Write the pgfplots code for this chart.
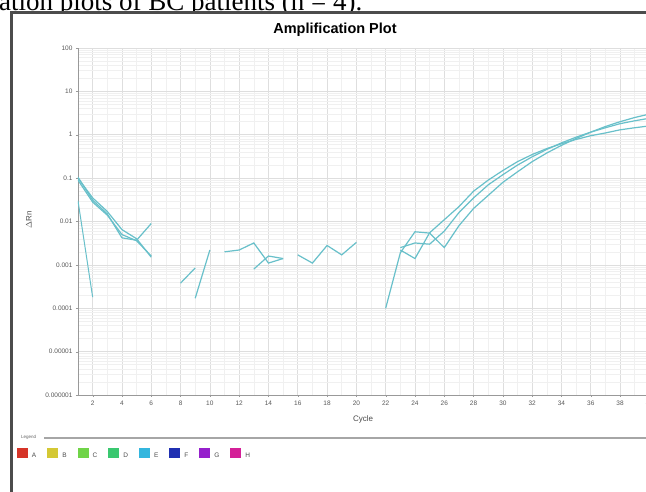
\documentclass[border=0pt]{standalone}
\usepackage{fontspec}
\setmainfont{Liberation Sans}
\newfontfamily\capfont{Liberation Serif}
\usepackage{pgfplots}
\pgfplotsset{compat=1.18}
\definecolor{amp}{RGB}{104,192,202}
\definecolor{legA}{RGB}{214,52,40}
\definecolor{legB}{RGB}{212,200,52}
\definecolor{legC}{RGB}{112,212,72}
\definecolor{legD}{RGB}{58,200,112}
\definecolor{legE}{RGB}{52,182,222}
\definecolor{legF}{RGB}{32,48,178}
\definecolor{legG}{RGB}{150,32,204}
\definecolor{legH}{RGB}{212,32,152}
\begin{document}
\begin{tikzpicture}
\useasboundingbox (0,0) rectangle (646pt,492pt);
\clip (0,0) rectangle (646pt,492pt);
\fill[white] (0,0) rectangle (646pt,492pt);
\node[anchor=base west, inner sep=0pt, font=\capfont\fontsize{27}{27}\selectfont] at (-1pt,481pt) {ation plots of BC patients (n = 4).};
\fill[white] (13pt,-2pt) rectangle (650pt,477.5pt);
\draw[line width=3pt, draw=black!70] (11.5pt,-5pt) -- (11.5pt,479pt) -- (660pt,479pt);
\begin{axis}[
  at={(78pt,97pt)}, anchor=south west,
  scale only axis, width=571.4pt, height=347pt,
  xmin=1, xmax=40, ymode=log, ymin=1e-6, ymax=100,
  xtick={2,4,...,40}, minor x tick num=1,
  ytick={1e-6,1e-5,1e-4,1e-3,1e-2,1e-1,1,10,100},
  yticklabels={0.000001,0.00001,0.0001,0.001,0.01,0.1,1,10,100},
  /pgf/number format/assume math mode=true,
  grid=both,
  major grid style={draw=black!13, line width=0.6pt},
  minor grid style={draw=black!6, line width=0.5pt},
  axis x line*=bottom, axis y line*=left,
  axis line style={draw=black!40, line width=0.7pt},
  tick align=outside, major tick length=2pt, minor tick length=0pt,
  tick style={draw=black!40},
  tick label style={font=\fontsize{6.5}{6.5}\selectfont, text=black!65},
  title={Amplification Plot},
  title style={at={(axis description cs:0.4498,1.0231)}, anchor=base, font=\bfseries\fontsize{14.5}{14.5}\selectfont, inner sep=0pt},
  xlabel={Cycle},
  every axis x label/.style={at={(axis description cs:0.4988,-0.0692)}, anchor=center, font=\fontsize{8}{8}\selectfont, text=black!70},
  ylabel={$\Delta$Rn},
  every axis y label/.style={at={(axis description cs:-0.0858,0.504)}, anchor=center, rotate=90, font=\fontsize{8}{8}\selectfont, text=black!70},
  unbounded coords=jump,
  legend image code/.code={\fill[#1] (0pt,-2pt) rectangle (11pt,8pt);},
  legend columns=8,
  legend style={at={(axis description cs:-0.1068,-0.1527)}, anchor=north west, draw=none, fill=none, inner sep=0pt, outer sep=0pt, font=\fontsize{6.5}{6.5}\selectfont, text=black!70,
    /tikz/every odd column/.append style={column sep=2pt},
    /tikz/every even column/.append style={column sep=9pt}},
]
% curve 1
\addplot[amp, line width=1.2pt, forget plot] coordinates {
 (1,0.1)(2,0.035)(3,0.017)(4,0.0065)(5,0.004)(6,0.0015)
 (7,nan)
 (8,0.00038)(9,0.00085)
 (12.5,nan)
 (13,0.0008)(14,0.0016)(15,0.0014)
 (18,nan)
 (22,0.0001)(23,0.0019)(24,0.0058)(25,0.0054)(26,0.0025)(27,0.008)(28,0.02)(29,0.04)(30,0.08)(31,0.14)(32,0.24)(33,0.38)(34,0.57)(35,0.82)(36,1.15)(37,1.55)(38,2.0)(39,2.5)(40,3.0)
};
% curve 2
\addplot[amp, line width=1.2pt, forget plot] coordinates {
 (1,0.105)(2,0.031)(3,0.015)(4,0.0042)(5,0.0037)(6,0.009)
 (7,nan)
 (9,0.00017)(10,0.0022)
 (10.5,nan)
 (11,0.002)(12,0.0022)(13,0.0032)(14,0.0011)(15,0.0014)
 (18,nan)
 (23,0.0022)(24,0.0014)(25,0.0055)(26,0.011)(27,0.022)(28,0.05)(29,0.09)(30,0.15)(31,0.24)(32,0.35)(33,0.48)(34,0.62)(35,0.78)(36,0.95)(37,1.1)(38,1.3)(39,1.45)(40,1.6)
};
% curve 3
\addplot[amp, line width=1.2pt, forget plot] coordinates {
 (1,0.09)(2,0.028)(3,0.014)(4,0.005)(5,0.0036)(6,0.0016)
 (7,nan)
 (16,0.0017)(17,0.0011)(18,0.0028)(19,0.0017)(20,0.0033)
 (21,nan)
 (23,0.0025)(24,0.0032)(25,0.003)(26,0.006)(27,0.016)(28,0.035)(29,0.07)(30,0.12)(31,0.2)(32,0.31)(33,0.46)(34,0.65)(35,0.88)(36,1.15)(37,1.45)(38,1.8)(39,2.1)(40,2.4)
};
% curve 4
\addplot[amp, line width=1.0pt, forget plot] coordinates {
 (1,0.03)(2,0.00018)
};
\addlegendimage{fill=legA, draw=none}\addlegendentry{A}
\addlegendimage{fill=legB, draw=none}\addlegendentry{B}
\addlegendimage{fill=legC, draw=none}\addlegendentry{C}
\addlegendimage{fill=legD, draw=none}\addlegendentry{D}
\addlegendimage{fill=legE, draw=none}\addlegendentry{E}
\addlegendimage{fill=legF, draw=none}\addlegendentry{F}
\addlegendimage{fill=legG, draw=none}\addlegendentry{G}
\addlegendimage{fill=legH, draw=none}\addlegendentry{H}
\end{axis}
\draw[draw=black!35, line width=1.2pt] (44pt,54pt) -- (660pt,54pt);
\node[anchor=west, inner sep=0pt, font=\fontsize{4.5}{4.5}\selectfont, text=black!60] at (21pt,54.5pt) {Legend};
\end{tikzpicture}
\end{document}
